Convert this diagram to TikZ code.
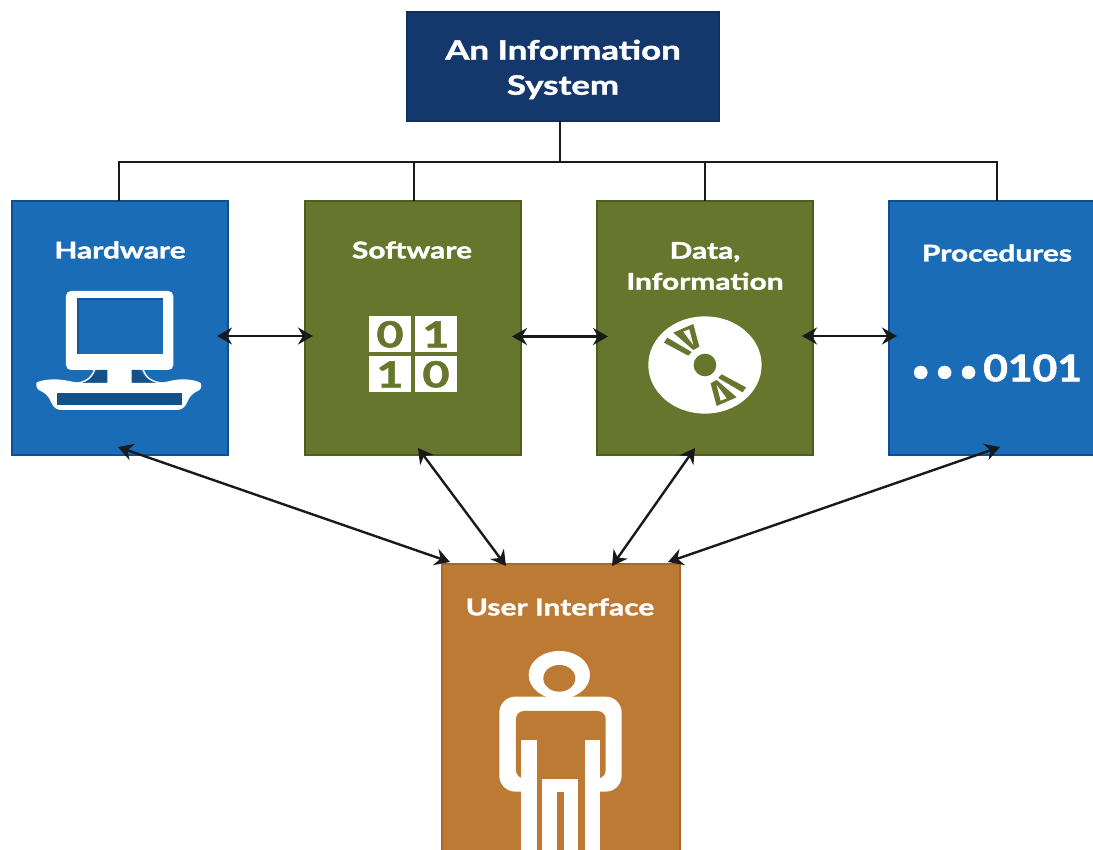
\documentclass[tikz,border=0pt]{standalone}
\usepackage{fontspec}
\setmainfont{Lato}[BoldFeatures={FakeStretch=1.3,FakeBold=1.6}]
\newfontfamily\plainheavy{Lato}[UprightFont=*-Bold,UprightFeatures={FakeBold=1.6}]
\usetikzlibrary{arrows.meta}
\definecolor{navy}{HTML}{14386C}
\definecolor{navyedge}{HTML}{0F2F5C}
\definecolor{bluebox}{HTML}{1B6CB7}
\definecolor{blueedge}{HTML}{0F4F8F}
\definecolor{olivebox}{HTML}{66762C}
\definecolor{oliveedge}{HTML}{4F5E1E}
\definecolor{orangebox}{HTML}{BD7A34}
\definecolor{orangeedge}{HTML}{A9682A}
\definecolor{wirecol}{HTML}{1A1A1A}
\tikzset{
  box/.style={inner sep=0pt,outer sep=0pt,line width=1.2pt},
  label/.style={text=white,font=\bfseries\fontsize{23}{23}\selectfont,inner sep=0pt,align=center},
  wire/.style={draw=wirecol,line width=1.8pt},
  link/.style={draw=wirecol,line width=2.4pt,{Stealth[length=15pt,width=17pt,inset=5pt]}-{Stealth[length=15pt,width=17pt,inset=5pt]}},
  digit/.style={text=olivebox,font=\bfseries\fontsize{36}{36}\selectfont,inner sep=0pt},
}
\begin{document}
\begin{tikzpicture}[x=1pt,y=-1pt]
\useasboundingbox (0,0) rectangle (1093,850);
% boxes
\node[box,fill=navy,draw=navyedge,minimum width=312pt,minimum height=109pt] (title) at (563,66.5) {};
\node[box,fill=bluebox,draw=blueedge,minimum width=216pt,minimum height=254pt] (hw) at (120,328) {};
\node[box,fill=olivebox,draw=oliveedge,minimum width=216pt,minimum height=254pt] (sw) at (413,328) {};
\node[box,fill=olivebox,draw=oliveedge,minimum width=216pt,minimum height=254pt] (data) at (705,328) {};
\node[box,fill=bluebox,draw=blueedge,minimum width=206pt,minimum height=254pt] (proc) at (992,328) {};
\node[box,fill=orangebox,draw=orangeedge,minimum width=238pt,minimum height=288pt] (ui) at (561,708) {};
% labels
\node[label,font=\bfseries\fontsize{26.8}{35}\selectfont] (titletext) at (563,69.5) {An Information\\System};
\node[label] (hwtext) at (120,250) {Hardware};
\node[label] (swtext) at (412,250) {Software};
\node[label,font=\bfseries\fontsize{23}{31}\selectfont] (datatext) at (705,266) {Data,\\Information};
\node[label] (proctext) at (997,253) {Procedures};
\node[label] (uitext) at (560,607) {User Interface};
% bus
\coordinate (busmid) at (560,162);
\coordinate (stemhw) at (119,162);
\coordinate (stemsw) at (414,162);
\coordinate (stemdata) at (705,162);
\coordinate (stemproc) at (997,162);
\draw[wire] (title.south -| busmid) -- (busmid);
\draw[wire] (hw.north -| stemhw) -- (stemhw) -- (stemproc) -- (proc.north -| stemproc);
\draw[wire] (stemsw) -- (sw.north -| stemsw);
\draw[wire] (stemdata) -- (data.north -| stemdata);
% link ends
\coordinate (a1) at (217,336); \coordinate (a2) at (313,336);
\coordinate (b1) at (512,336.5); \coordinate (b2) at (608,336.5);
\coordinate (c1) at (802,336); \coordinate (c2) at (897,336);
\coordinate (d1) at (118,447); \coordinate (d2) at (450,562);
\coordinate (e1) at (418,448); \coordinate (e2) at (506,566);
\coordinate (f1) at (695,448); \coordinate (f2) at (612,566);
\coordinate (g1) at (1000,447); \coordinate (g2) at (668,562);
\draw[link] (a1) -- (a2);
\draw[link] (b1) -- (b2);
\draw[link] (c1) -- (c2);
\draw[link] (d1) -- (d2);
\draw[link] (e1) -- (e2);
\draw[link] (f1) -- (f2);
\draw[link] (g1) -- (g2);
% computer icon (zoomed coordinates)
\begin{scope}[shift={(0,190)},x=0.3333pt,y=-0.3333pt]
  \fill[white,rounded corners=5pt] (198,303) rectangle (520,540);
  \fill[bluebox!80!black] (232,325) rectangle (490,493);
  \fill[bluebox] (236,329) rectangle (490,493);
  \fill[white] (322,535) rectangle (395,610);
  \fill[white,rounded corners=6pt] (105,597) .. controls (110,575) and (150,560) .. (230,578)
     -- (490,578) .. controls (560,560) and (600,575) .. (610,597)
     -- (575,610) -- (550,660) -- (165,660) -- (140,610) -- cycle;
  \fill[bluebox!75!black] (172,610) rectangle (545,645);
  \fill[bluebox!75!black] (322,540) -- (290,540) .. controls (280,565) and (260,575) .. (225,578) -- (322,578) -- cycle;
  \fill[bluebox!75!black] (395,540) -- (420,540) .. controls (430,565) and (450,575) .. (495,578) -- (395,578) -- cycle;
  \draw[white,line width=1.4pt] (283,540) .. controls (275,565) and (255,578) .. (225,580);
  \draw[white,line width=1.4pt] (430,540) .. controls (438,565) and (458,578) .. (495,580);
\end{scope}
% binary tiles and disc (zoomed coordinates)
\begin{scope}[shift={(340,290)},x=0.3333pt,y=-0.3333pt]
  \fill[white] (88,78) rectangle (212,187);
  \fill[white] (225,78) rectangle (350,187);
  \fill[white] (88,198) rectangle (212,307);
  \fill[white] (225,198) rectangle (350,307);
  \node[digit] (d00) at (150,133) {0};
  \node[digit] (d01) at (288,133) {1};
  \node[digit] (d10) at (150,253) {1};
  \node[digit] (d11) at (288,253) {0};
  \fill[white] (1095,225) ellipse [x radius=170,y radius=146];
  \fill[olivebox] (1095,225) circle [radius=34];
  \fill[olivebox] (1045,197) -- (972,158) -- (982,143) -- (1055,186) -- cycle;
  \fill[olivebox] (1060,180) -- (1000,128) -- (1060,102) -- (1078,170) -- cycle;
  \fill[white] (1060,165) -- (1030,125) -- (1048,118) -- cycle;
  \fill[olivebox] (1145,253) -- (1218,292) -- (1208,307) -- (1135,264) -- cycle;
  \fill[olivebox] (1130,270) -- (1190,322) -- (1130,348) -- (1112,280) -- cycle;
  \fill[white] (1130,285) -- (1160,325) -- (1142,332) -- cycle;
\end{scope}
% procedures icon text
\node[text=white,font=\plainheavy\fontsize{37}{37}\selectfont,inner sep=0pt] (proctxt) at (997,368) {{\fontsize{30}{30}\selectfont •\kern6.5pt•\kern6.5pt•}\kern6pt\scalebox{1.15}[1]{0101}};
% person (zoomed coordinates)
\begin{scope}
  \clip (442,564) rectangle (680,850);
  \begin{scope}[shift={(430,550)},x=0.3333pt,y=-0.3333pt]
    \fill[white] (388,375) ellipse [x radius=92,y radius=72];
    \fill[white,rounded corners=16pt] (208,725) -- (208,440) -- (575,440) -- (575,725) -- cycle;
    \fill[orangebox,rounded corners=8pt] (258,685) -- (258,483) -- (527,483) -- (527,685) -- cycle;
    \fill[orangebox] (388,385) ellipse [x radius=48,y radius=40];
    \fill[white] (272,570) rectangle (320,900);
    \fill[white] (465,570) rectangle (510,900);
    \fill[orangebox] (320,685) rectangle (465,725);
    \fill[white] (337,688) rectangle (445,900);
    \fill[orangebox] (380,725) rectangle (402,900);
  \end{scope}
\end{scope}
\end{tikzpicture}
\end{document}
